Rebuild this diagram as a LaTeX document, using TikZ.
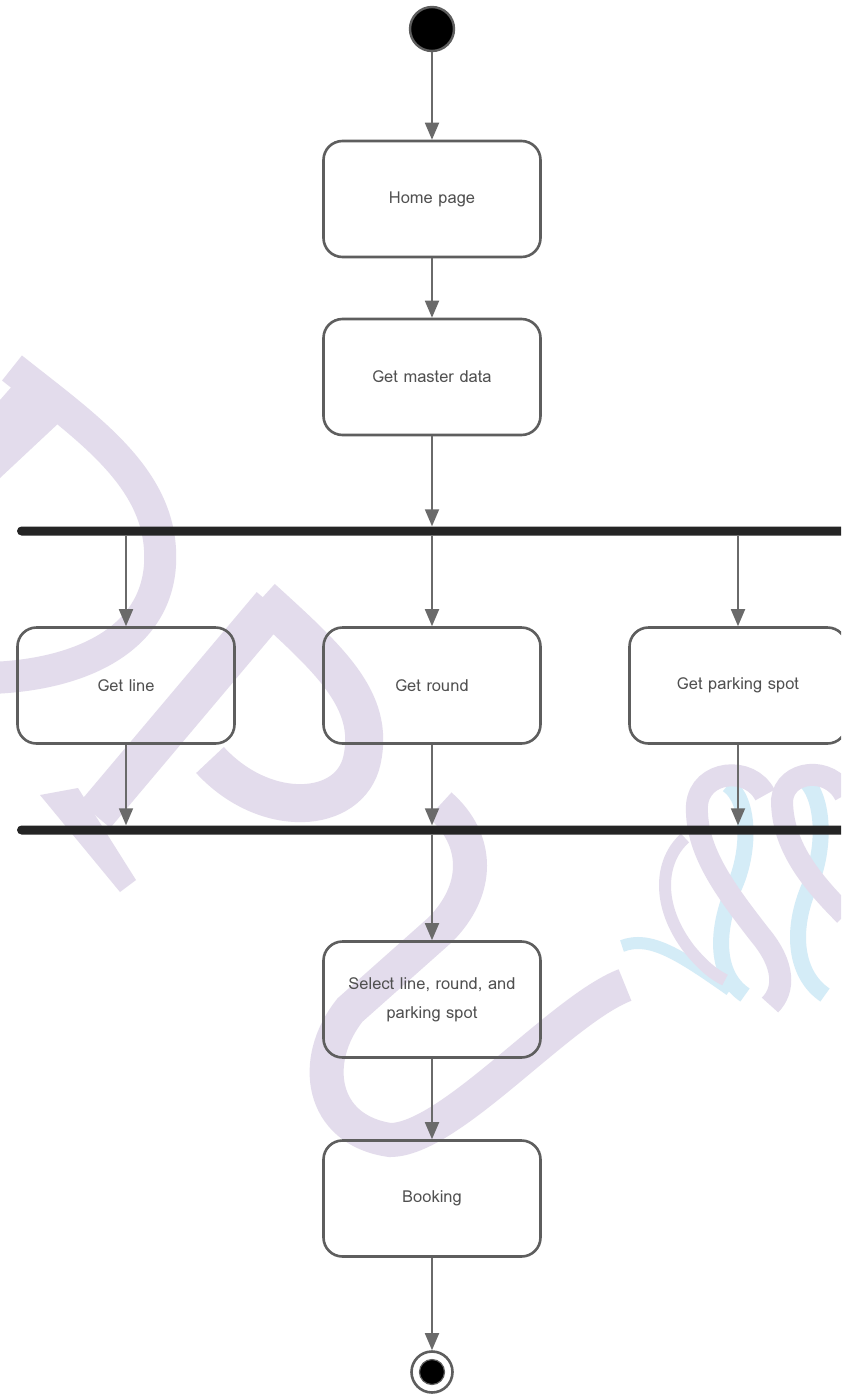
\documentclass[tikz,border=0pt]{standalone}
\usepackage{fontspec}
\newfontfamily\actfont{Loma}
\usetikzlibrary{arrows.meta}

\definecolor{boxgray}{HTML}{5E5E5E}
\definecolor{arrgray}{HTML}{6A6A6A}
\definecolor{txtgray}{HTML}{505050}
\definecolor{bardark}{HTML}{242424}
\definecolor{wmpurple}{HTML}{E3DCEC}
\definecolor{wmblue}{HTML}{D4ECF7}

\tikzset{
  act/.style={draw=boxgray, line width=2.6pt, rounded corners=19pt,
    minimum width=217pt, minimum height=116pt, inner sep=0pt,
    text=txtgray, align=center,
    font=\actfont\fontsize{16.5}{29}\selectfont},
  flow/.style={draw=arrgray, line width=1.8pt,
    -{Triangle[width=14pt,length=17pt,fill=arrgray]}},
  syncbar/.style={fill=bardark, draw=none, minimum width=833pt,
    minimum height=9pt, inner sep=0pt, rounded corners=4.5pt},
  wmp/.style={draw=wmpurple, line cap=butt},
  wmb/.style={draw=wmblue, line cap=butt},
}

\begin{document}
\begin{tikzpicture}[x=1pt,y=-1pt]
\useasboundingbox (0,0) rectangle (841,1395);
\fill[white] (0,0) rectangle (841,1395);
\clip (0,0) rectangle (841,1395);

% ---- background emblem ----
% left letter form
\fill[wmpurple] (0,400) -- (28,368) -- (62,420) -- (0,478) -- cycle;
\draw[wmp, line width=32pt] (12,368) .. controls (90,430) and (165,480) .. (160,565)
  .. controls (155,640) and (80,675) .. (-10,678);
% middle strokes
\draw[wmp, line width=40pt] (95,815) -- (272,605);
\fill[wmpurple] (40,795) -- (78,788) -- (136,880) -- (120,892) -- cycle;
\draw[wmp, line width=38pt] (262,598) .. controls (330,660) and (375,700) .. (362,760)
  .. controls (350,815) and (265,820) .. (210,760);
\draw[wmp, line width=34pt] (440,805) .. controls (480,840) and (480,890) .. (440,930)
  -- (350,1010) .. controls (310,1060) and (320,1130) .. (390,1140)
  .. controls (450,1140) and (560,1010) .. (625,985);
% right ribbon
\draw[wmb, line width=12pt] (622,946) .. controls (650,935) and (680,955) .. (730,990);
\draw[wmb, line width=16pt] (728,785) .. controls (750,800) and (750,850) .. (735,885)
  .. controls (715,930) and (715,975) .. (745,995);
\draw[wmb, line width=16pt] (805,780) .. controls (825,800) and (825,850) .. (810,885)
  .. controls (790,930) and (795,975) .. (825,995);
\draw[wmp, line width=12pt] (685,838) .. controls (660,860) and (655,905) .. (690,950)
  .. controls (705,968) and (715,975) .. (725,980);
\draw[wmp, line width=22pt] (765,795) .. controls (750,765) and (700,770) .. (697,805)
  .. controls (695,850) and (725,890) .. (760,935)
  .. controls (785,965) and (785,990) .. (770,1005);
\draw[wmp, line width=22pt] (845,795) .. controls (830,765) and (785,770) .. (782,800)
  .. controls (782,845) and (810,880) .. (845,915);

% ---- activity flow ----
\node[circle, minimum size=44pt, inner sep=0pt, fill=black, draw=boxgray,
  line width=2.4pt] (start) at (432,29) {};

\node[act] (home)   at (432,199)   {Home page};
\node[act] (master) at (432,377)   {Get master data};

\node[syncbar] (fork) at (433.5,531) {};

\node[act] (line)    at (126,685.5) {Get line};
\node[act] (round)   at (432,685.5) {Get round};
\node[act] (parking) at (738,685.5) {Get parking spot};

\node[syncbar] (join) at (433.5,830) {};

\node[act] (select)  at (432,999.5)  {Select line, round, and\\parking spot};
\node[act] (booking) at (432,1198.5) {Booking};

\node[circle, minimum size=41pt, inner sep=0pt, draw=boxgray, line width=2.6pt,
  fill=white] (finish) at (432,1372) {};
\node[circle, minimum size=25pt, inner sep=0pt, fill=black, draw=boxgray,
  line width=1.2pt] (finishdot) at (finish.center) {};

\draw[flow] (start.south) -- (home.north);
\draw[flow] (home.south) -- (master.north);
\draw[flow] (master.south) -- (master.south |- fork.north);

\draw[flow] (line.north |- fork.south) -- (line.north);
\draw[flow] (round.north |- fork.south) -- (round.north);
\draw[flow] (parking.north |- fork.south) -- (parking.north);

\draw[flow] (line.south) -- (line.south |- join.north);
\draw[flow] (round.south) -- (round.south |- join.north);
\draw[flow] (parking.south) -- (parking.south |- join.north);

\draw[flow] (select.north |- join.south) -- (select.north);
\draw[flow] (select.south) -- (booking.north);
\draw[flow] (booking.south) -- (finish.north);
\end{tikzpicture}
\end{document}
